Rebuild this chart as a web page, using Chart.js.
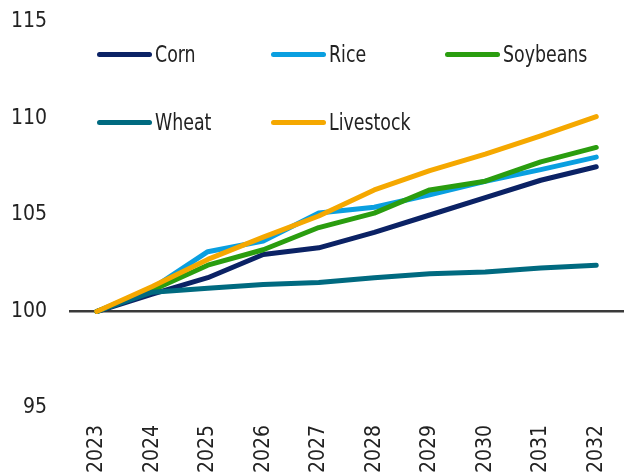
<!DOCTYPE html>
<html>
<head>
<meta charset="utf-8">
<script src="https://cdn.jsdelivr.net/npm/chart.js@4"></script>
<style>
  html, body { margin: 0; padding: 0; background: #fff; }
  #wrap { position: relative; width: 624px; height: 473px; overflow: hidden; }
  canvas { display: block; }
  .lg { position: absolute; display: flex; align-items: center; font-family: "Liberation Sans Narrow", "DejaVu Sans Condensed", "Arial Narrow", sans-serif; font-size: 23px; color: #222; white-space: nowrap; line-height: 1; }
  .lg span.sw { display: inline-block; width: 55px; height: 5px; border-radius: 3px; margin-right: 3px; }
  .lg span.tx { display: inline-block; transform: scaleX(0.84); transform-origin: left center; }
</style>
</head>
<body>
<div id="wrap">
  <canvas id="c" width="624" height="473"></canvas>
</div>
<script>
const years = ["2023","2024","2025","2026","2027","2028","2029","2030","2031","2032"];
const corn      = [100, 100.9, 101.75, 102.95, 103.3, 104.1, 105.0, 105.9, 106.8, 107.5];
const rice      = [100, 101.2, 103.1, 103.65, 105.1, 105.4, 106.05, 106.75, 107.35, 108.0];
const soybeans  = [100, 101.1, 102.4, 103.2, 104.35, 105.1, 106.3, 106.75, 107.75, 108.5];
const wheat     = [100, 101.0, 101.2, 101.4, 101.5, 101.75, 101.95, 102.05, 102.25, 102.4];
const livestock = [100, 101.3, 102.7, 103.85, 104.95, 106.3, 107.3, 108.15, 109.1, 110.1];
const yTicks = [95, 100, 105, 110, 115];

const seriesNames = ["Corn", "Rice", "Soybeans", "Wheat", "Livestock"];
const seriesData = [corn, rice, soybeans, wheat, livestock];
const seriesColors = ["#0b2265", "#0a9fe0", "#2a9d0f", "#006a80", "#f5a800"];

const FONT = "'Liberation Sans Narrow', 'DejaVu Sans Condensed', 'Arial Narrow', sans-serif";

const datasets = seriesNames.map((n, i) => ({
  label: n,
  data: seriesData[i],
  borderColor: seriesColors[i],
  backgroundColor: seriesColors[i],
  borderWidth: 5,
  borderCapStyle: 'round',
  borderJoinStyle: 'round',
  pointRadius: 0,
  tension: 0,
  fill: false,
  order: seriesNames.length - 1 - i
}));

new Chart(document.getElementById('c'), {
  type: 'line',
  data: { labels: years, datasets },
  options: {
    responsive: false,
    animation: false,
    layout: { padding: { top: 22, right: -3, left: 0, bottom: 0 } },
    plugins: { legend: { display: false }, tooltip: { enabled: false } },
    scales: {
      x: {
        offset: true,
        grid: { display: false, drawTicks: false },
        border: { display: false },
        ticks: { color: '#222', font: { family: FONT, size: 21 }, minRotation: 90, maxRotation: 90, padding: 17, autoSkip: false },
        afterFit: s => { s.height = 65; s.paddingLeft = 0; s.paddingRight = 0; }
      },
      y: {
        min: 95, max: 115,
        afterBuildTicks: s => { s.ticks = yTicks.map(v => ({ value: v })); },
        grid: {
          drawTicks: false,
          color: c => (c.tick && c.tick.value === 100) ? '#3a3a3a' : 'rgba(0,0,0,0)',
          lineWidth: 2.5
        },
        border: { display: false },
        ticks: { color: '#222', font: { family: FONT, size: 21 }, padding: 22 },
        afterFit: s => { s.width = 69; s.paddingTop = 0; s.paddingBottom = 0; }
      }
    }
  }
});

// HTML legend built from the series arrays
const legendPos = [[97, 54], [271, 54], [445, 54], [97, 122], [271, 122]];
const wrap = document.getElementById('wrap');
seriesNames.forEach((n, i) => {
  const d = document.createElement('div');
  d.className = 'lg';
  d.style.left = legendPos[i][0] + 'px';
  d.style.top = (legendPos[i][1] - 12) + 'px';
  d.style.height = '24px';
  const sw = document.createElement('span');
  sw.className = 'sw';
  sw.style.background = seriesColors[i];
  d.appendChild(sw);
  const tx = document.createElement('span');
  tx.className = 'tx';
  tx.textContent = n;
  d.appendChild(tx);
  wrap.appendChild(d);
});
</script>
</body>
</html>
